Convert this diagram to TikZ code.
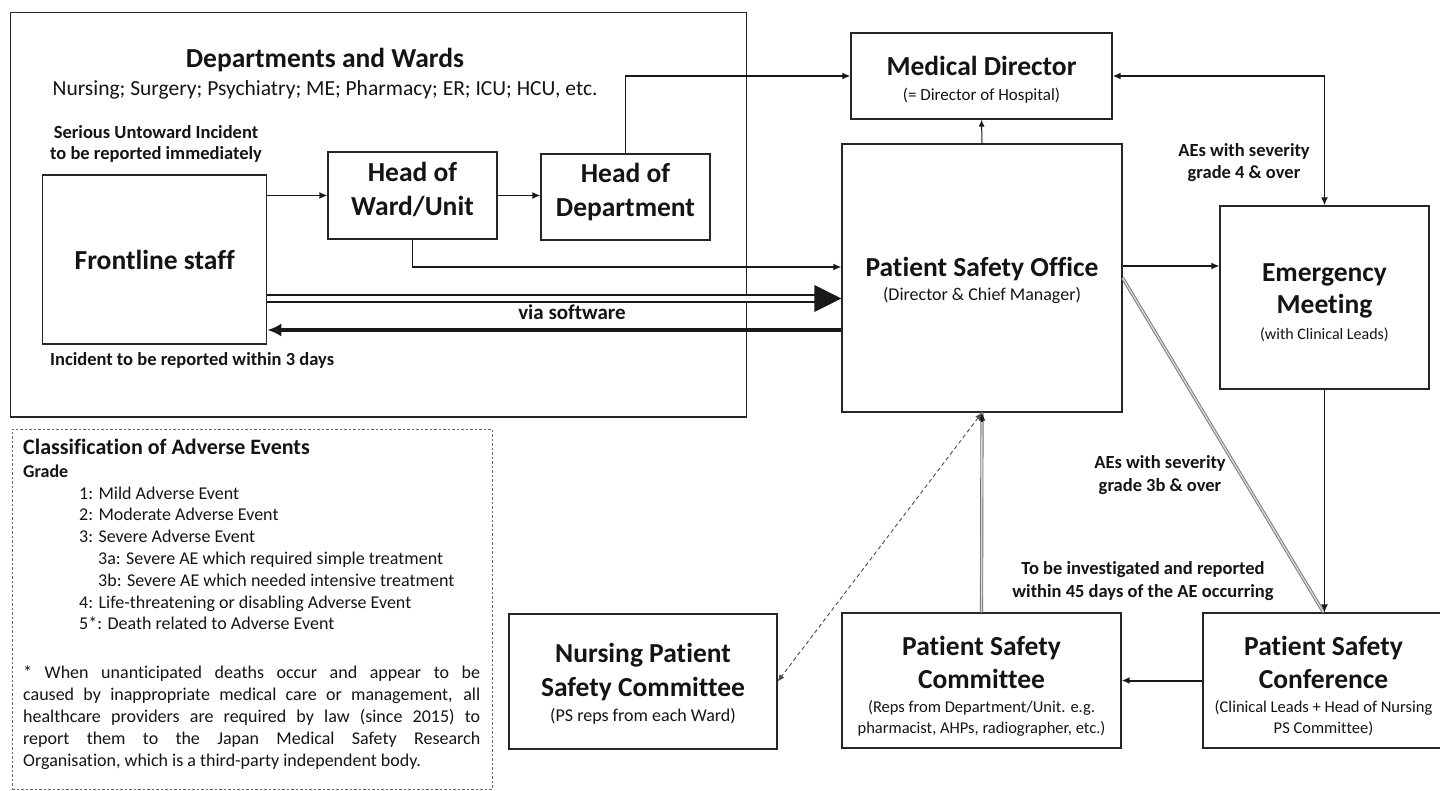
\documentclass[tikz,border=0pt]{standalone}
\usepackage{fontspec}
\setmainfont{Carlito}[Ligatures=NoCommon]
\usetikzlibrary{arrows.meta,calc}
\newcommand\fbig{\fontsize{27.5}{34}\selectfont\bfseries}
\newcommand\fsub[1]{\fontsize{#1}{#1}\selectfont\mdseries}
\newcommand\fsmall{\fontsize{18.5}{21}\selectfont\bfseries}
\newcommand\up[1]{\rule{0pt}{#1pt}}
\newcommand\dn[1]{\rule[-#1pt]{0pt}{#1pt}}
\begin{document}
\begin{tikzpicture}[x=1pt,y=-1pt,
  box/.style={draw=black!85, line width=1.3pt, inner sep=0pt, align=center, font=\fbig, text=black!92},
  arr/.style={draw=black!90, line width=1.4pt, -{Latex[length=8pt,width=7pt]}},
  gdbl/.style={draw=black!55, double=black!15, line width=0.9pt, double distance=1.4pt},
  lbl/.style={inner sep=0pt, anchor=base, font=\fsmall, text=black!92}]
\useasboundingbox (0,0) rectangle (1440,791);
% boxes
\node[box, line width=1.1pt, minimum width=735.8pt, minimum height=404.3pt] (dept) at (378.6,214.85) {};
\node[box, draw=black!60, line width=0.9pt, dash pattern=on 2.5pt off 2pt, minimum width=480pt, minimum height=360pt] (cls) at (252,609) {};
\node[box, minimum width=224pt, minimum height=169pt] (front) at (154.65,259.5) {Frontline staff};
\node[box, minimum width=169pt, minimum height=87pt] (how) at (412.5,195.5) {Head of\\Ward/Unit\dn{13.5}};
\node[box, minimum width=169pt, minimum height=86pt] (hod) at (625.5,197) {Head of\\Department\dn{13.5}};
\node[box, minimum width=261pt, minimum height=86pt] (md) at (981.5,76) {\up{26.5}Medical Director\\[-9pt]{\fsub{17}(= Director of Hospital)}};
\node[box, minimum width=280pt, minimum height=268pt] (pso) at (982,278) {\up{24}Patient Safety Office\\[-10pt]{\fsub{18}(Director \& Chief Manager)}};
\node[box, minimum width=209pt, minimum height=183pt] (em) at (1324.5,297.5) {\up{27.5}Emergency\\[-2pt]Meeting\\[-8pt]{\fsub{16}(with Clinical Leads)}};
\node[box, minimum width=268pt, minimum height=135pt] (nurs) at (643,681.5) {\up{24.5}Nursing Patient\\Safety Committee\\[-9pt]{\fsub{18}(PS reps from each Ward)}};
\node[box, minimum width=279pt, minimum height=135pt] (comm) at (981.5,680.5) {\up{30.5}Patient Safety\\[-1pt]Committee\\[-10pt]{\fsub{16.5}(Reps from Department/Unit. e.g.}\\[-13pt]{\fsub{16.5}pharmacist, AHPs, radiographer, etc.)}};
\node[box, minimum width=241pt, minimum height=135pt] (conf) at (1323.5,680.5) {\up{30.5}Patient Safety\\[-1pt]Conference\\[-10pt]{\fsub{16.5}(Clinical Leads + Head of Nursing}\\[-13pt]{\fsub{16.5}PS Committee)}};
% connectors
\draw[arr] (front.east |- how.west) -- (how.west);
\draw[arr] (how.east) -- (hod.west |- how.east);
\draw[arr] (hod.north) |- (md.west);
\coordinate (p2) at ($(pso.west)+(0,-11)$);
\draw[arr] (how.south) |- (p2);
\coordinate (f1) at ($(front.east)+(0,39)$);
\coordinate (f3) at (pso.west |- f1);
\coordinate (f2) at ($(f3)+(-25,0)$);
\coordinate (f4) at ($(f3)+(-27,0)$);
\draw[draw=black!90, line width=2.1pt, double=white, double distance=4.5pt] (f1) -- (f2);
\fill[black!90] ($(f4)+(0,-13.5)$) -- (f3) -- ($(f4)+(0,13.5)$) -- cycle;
\coordinate (r1) at ($(pso.west)+(0,52)$);
\draw[draw=black!90, line width=4pt, -{Latex[length=14pt,width=13pt]}] (r1) -- (front.east |- r1);
\draw[arr, line width=1pt, -{Latex[length=7pt,width=6pt]}] (pso.north) -- (md.south);
\draw[arr, {Latex[length=8pt,width=7pt]}-{Latex[length=8pt,width=7pt]}] (md.east) -| (em.north);
\coordinate (p1) at ($(pso.east)+(0,-12)$);
\draw[arr] (p1) -- (em.west |- p1);
\draw[gdbl] (pso.east) -- (conf.north);
\draw[arr] (em.south) -- (em.south |- conf.north);
\draw[arr, line width=2pt] (conf.west) -- (comm.east);
\draw[gdbl] (comm.north) -- (pso.south);
\coordinate (c1) at ($(pso.south)+(0,9)$);
\draw[arr] (c1) -- (pso.south);
\draw[draw=black!70, line width=0.9pt, dash pattern=on 4pt off 3pt, {Latex[length=7pt,width=6pt]}-{Latex[length=7pt,width=6pt]}] (pso.south) -- (nurs.east);
% labels
\node[lbl, font=\fbig] (dtitle) at (325,68) {Departments and Wards};
\node[lbl, font=\fontsize{21.5}{24}\selectfont] (dlist) at (325,96) {Nursing; Surgery; Psychiatry; ME; Pharmacy; ER; ICU; HCU, etc.};
\node[lbl] (sui1) at (156,138.5) {Serious Untoward Incident};
\node[lbl] (sui2) at (156,159.5) {to be reported immediately};
\node[lbl, anchor=base west] (i3) at (50,366) {Incident to be reported within 3 days};
\node[lbl, font=\fontsize{21}{24}\selectfont\bfseries] (via) at (572,320) {via software};
\node[lbl] (ae4a) at (1244,156.5) {AEs with severity};
\node[lbl] (ae4b) at (1244,178.5) {grade 4 \& over};
\node[lbl] (ae3a) at (1160,468.5) {AEs with severity};
\node[lbl] (ae3b) at (1160,491.5) {grade 3b \& over};
\node[lbl] (inv1) at (1143,574.5) {To be investigated and reported};
\node[lbl] (inv2) at (1143,597.5) {within 45 days of the AE occurring};
\node[lbl, anchor=base west, font=\fontsize{22}{26}\selectfont\bfseries] (ctitle) at (23,454) {Classification of Adverse Events};
\node[lbl, anchor=base west, font=\fontsize{18}{21}\selectfont\bfseries] (cgrade) at (23,477) {Grade};
\node[lbl, anchor=base west] (clist) at (79,499) {\parbox[t]{400pt}{\fontsize{18}{21.8}\selectfont\mdseries
1: Mild Adverse Event\\
2: Moderate Adverse Event\\
3: Severe Adverse Event\\
\hspace*{19pt}3a: Severe AE which required simple treatment\\
\hspace*{19pt}3b: Severe AE which needed intensive treatment\\
4: Life-threatening or disabling Adverse Event\\
5*: Death related to Adverse Event}};
\node[lbl, anchor=base west] (cnote) at (23,678) {\parbox[t]{457pt}{\fontsize{18}{22.2}\selectfont\mdseries
\makebox[457pt][s]{* When unanticipated deaths occur and appear to be}\\
\makebox[457pt][s]{caused by inappropriate medical care or management, all}\\
\makebox[457pt][s]{healthcare providers are required by law (since 2015) to}\\
\makebox[457pt][s]{report them to the Japan Medical Safety Research}\\
Organisation, which is a third-party independent body.}};
\end{tikzpicture}
\end{document}
